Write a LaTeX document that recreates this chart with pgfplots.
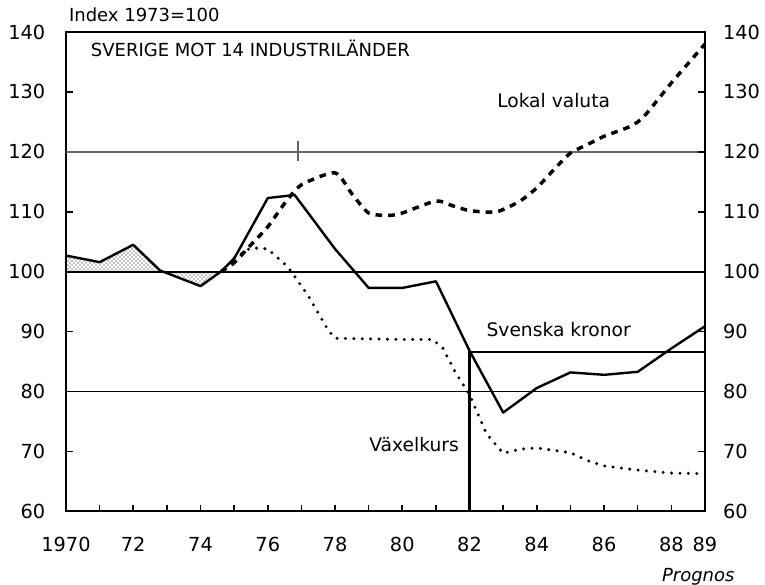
\documentclass[border=0pt]{standalone}
\usepackage{fontspec}
\setmainfont{DejaVu Sans}
\usepackage{pgfplots}
\pgfplotsset{compat=1.18}
\usepgfplotslibrary{fillbetween}
\usetikzlibrary{patterns}

\tikzset{
  sek/.style={black, line width=1.8pt, line join=round},
  lokal/.style={black, line width=2.6pt, dash pattern=on 5pt off 4.5pt},
  vxl/.style={black, line width=2.5pt, line cap=round, dash pattern=on 0pt off 6.3pt},
  ref/.style={black, line width=1.3pt},
}

\begin{document}
\begin{tikzpicture}
\begin{axis}[
  at={(0,0)}, anchor=south west,
  width=479.25pt, height=359.6pt, scale only axis,
  xmin=1970, xmax=1989, ymin=60, ymax=140,
  axis line style={line width=1.5pt},
  xtick={1970,...,1989},
  xticklabels={1970,,72,,74,,76,,78,,80,,82,,84,,86,,88,89},
  ytick={60,70,...,140},
  tick align=inside, major tick length=5pt,
  tick style={black, line width=1.2pt},
  xtick pos=bottom, ytick pos=left,
  /pgf/number format/assume math mode=true,
  ticklabel style={font=\fontsize{14.5}{17}\selectfont},
  xticklabel style={yshift=-16pt},
  yticklabel style={xshift=-12pt},
  clip=false,
]
% area between Svenska kronor and 100
\addplot[name path=sekp, draw=none] coordinates {
  (1970,102.7) (1971,101.6) (1972,104.5) (1972.8,100.2) (1974,97.6) (1974.6,100.0)
};
\addplot[name path=base, draw=none] coordinates {(1970,100) (1974.6,100)};
\addplot[pattern=crosshatch dots, pattern color=black] fill between[of=sekp and base];

% reference lines
\addplot[black!60, line width=1.8pt] coordinates {(1970,120) (1989,120)};
\addplot[ref] coordinates {(1970,100) (1989,100)};
\addplot[ref] coordinates {(1970,80) (1989,80)};
\addplot[ref] coordinates {(1982,86.6) (1989,86.6)};
\addplot[black, line width=1.8pt] coordinates {(1982,60) (1982,86.8)};
\addplot[black!60, line width=1.2pt] coordinates {(1976.9,118.4) (1976.9,121.8)};

% Svenska kronor
\addplot[sek] coordinates {
  (1970,102.7) (1971,101.6) (1972,104.5) (1972.8,100.2) (1974,97.6) (1974.6,100.0)
  (1975,102.2) (1976,112.3) (1976.8,112.8) (1978,103.8) (1979,97.3) (1980,97.3)
  (1981,98.4) (1982,86.8) (1983,76.5) (1984,80.6) (1985,83.2) (1986,82.8)
  (1987,83.3) (1988,87.2) (1989,90.9)
};

% Lokal valuta
\addplot[lokal, smooth, tension=0.4] coordinates {
  (1974.6,100) (1975,101.5) (1975.5,104.5) (1976,107.5) (1976.5,111.4) (1977,114.5)
  (1978,116.5) (1978.5,113) (1979,109.8) (1979.6,109.4) (1980,109.8) (1981,111.8)
  (1981.5,111) (1982,110.2) (1982.8,110) (1983.5,111.8) (1984,114) (1984.5,117)
  (1985,119.8) (1985.5,121.2) (1986,122.6) (1986.8,124.3) (1987.2,126) (1988,131.5)
  (1989,138)
};

% Vaxelkurs
\addplot[vxl] coordinates {
  (1975,102.3) (1975.5,104) (1976,103.8) (1976.6,100.8) (1977.2,96) (1977.8,90.2)
  (1978,88.9) (1979,88.8) (1980,88.7) (1980.9,88.7) (1981.2,87.3) (1981.6,83)
  (1982,79.5) (1982.5,73) (1983,69.7) (1983.5,70.4) (1984,70.6) (1985,69.8)
  (1985.5,68.5) (1986,67.6) (1987,66.9) (1988,66.4) (1989,66.3)
};

\node[anchor=west, font=\fontsize{13.5}{15}\selectfont] at (axis cs:1969.95,142.8) {Index 1973=100};
\node[anchor=west, font=\fontsize{13.5}{15}\selectfont] at (axis cs:1970.6,137.3) {SVERIGE MOT 14 INDUSTRILÄNDER};
\node[font=\fontsize{14}{16}\selectfont] at (axis cs:1984.5,128.6) {Lokal valuta};
\node[font=\fontsize{14}{16}\selectfont] at (axis cs:1984.65,90.3) {Svenska kronor};
\node[font=\fontsize{14}{16}\selectfont] at (axis cs:1980.35,71.1) {Växelkurs};
\node[font=\itshape\fontsize{13.5}{15}\selectfont] at (axis cs:1988.8,49.1) {Prognos};
\end{axis}

% right-hand scale
\begin{axis}[
  at={(0,0)}, anchor=south west,
  width=479.25pt, height=359.6pt, scale only axis,
  xmin=1970, xmax=1989, ymin=60, ymax=140,
  axis x line=none, axis y line*=right,
  axis line style={line width=1.5pt},
  ytick={60,70,...,140},
  tick align=inside, major tick length=5pt,
  tick style={black, line width=1.2pt},
  /pgf/number format/assume math mode=true,
  ticklabel style={font=\fontsize{14.5}{17}\selectfont},
  yticklabel style={xshift=10pt},
]
\addplot[draw=none] coordinates {(1970,60) (1989,140)};
\end{axis}

\pgfresetboundingbox
\path (-49.5pt,-55.1pt) rectangle (524.25pt,383.6pt);
\end{tikzpicture}
\end{document}
